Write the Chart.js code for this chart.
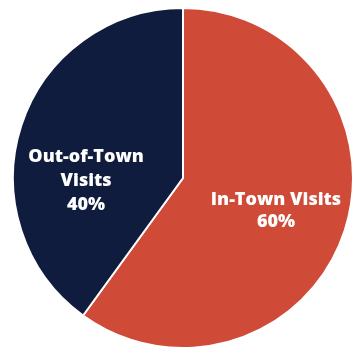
<!DOCTYPE html>
<html>
<head>
<meta charset="utf-8">
<script src="https://cdn.jsdelivr.net/npm/chart.js@4.4.1/dist/chart.umd.min.js"></script>
<style>
  html, body { margin: 0; padding: 0; background: #fff; }
  #wrap { position: relative; width: 357px; height: 354px; }
</style>
</head>
<body>
<div id="wrap"><canvas id="pie"></canvas></div>
<script>
// Visit split
const categories = ['In-Town Visits', 'Out-of-Town Visits'];
const shares = [60, 40];
const labelLines = [['In-Town Visits', '60%'], ['Out-of-Town', 'Visits', '40%']];
const sliceColors = ['#cf4a37', '#101c3e'];

// label anchor, as a fraction of the radius from the centre
const labelAnchors = [[0.547, 0.195], [-0.57, 0.018]];
const lineHeights = [22, 24];

const sliceLabels = {
  id: 'sliceLabels',
  afterDatasetsDraw(chart) {
    const ctx = chart.ctx;
    const arcs = chart.getDatasetMeta(0).data;
    ctx.save();
    ctx.fillStyle = '#ffffff';
    ctx.textAlign = 'center';
    ctx.textBaseline = 'middle';
    ctx.font = '800 18px "Open Sans", sans-serif';
    arcs.forEach((arc, i) => {
      const r = arc.outerRadius;
      const cx = arc.x + labelAnchors[i][0] * r;
      const cy = arc.y + labelAnchors[i][1] * r;
      const lines = labelLines[i];
      const lh = lineHeights[i];
      lines.forEach((t, j) => {
        ctx.fillText(t, cx, cy + (j - (lines.length - 1) / 2) * lh);
      });
    });
    ctx.restore();
  }
};

new Chart(document.getElementById('pie'), {
  type: 'pie',
  data: {
    labels: categories,
    datasets: [{
      data: shares,
      backgroundColor: sliceColors,
      borderColor: '#ffffff',
      borderWidth: 2,
    }],
  },
  options: {
    responsive: true,
    maintainAspectRatio: false,
    animation: false,
    layout: { padding: { left: 12, right: 3, top: 7, bottom: 5 } },
    plugins: {
      legend: { display: false },
      tooltip: { enabled: false },
    },
  },
  plugins: [sliceLabels],
});
</script>
</body>
</html>
